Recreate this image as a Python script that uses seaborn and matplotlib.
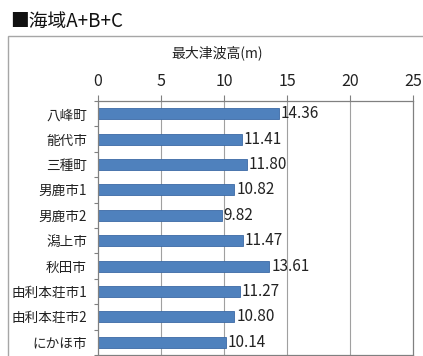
import matplotlib
matplotlib.use("Agg")
import matplotlib.pyplot as plt
from matplotlib.patches import Rectangle
from matplotlib.ticker import FixedLocator
import seaborn as sns
import pandas as pd

# Data: maximum tsunami height (m) per municipality, sea areas A+B+C
municipalities = ["八峰町", "能代市", "三種町", "男鹿市1", "男鹿市2",
                  "潟上市", "秋田市", "由利本荘市1", "由利本荘市2", "にかほ市"]
max_heights = [14.36, 11.41, 11.80, 10.82, 9.82,
               11.47, 13.61, 11.27, 10.80, 10.14]
x_ticks = [0, 5, 10, 15, 20, 25]

title_text = "■海域A+B+C"
axis_title = "最大津波高(m)"

df = pd.DataFrame({"municipality": municipalities, "height": max_heights})

sns.set_theme(style="white")
cjk = ["Noto Sans CJK JP", "DejaVu Sans"]
plt.rcParams["font.family"] = cjk

W, H = 423, 356
fig = plt.figure(figsize=(W / 100, H / 100), dpi=100)
fig.patch.set_facecolor("white")

# outer frame around the chart area
fig.add_artist(Rectangle((8 / W, -0.2), 1.2, 1 - 36 / H + 0.2,
                         transform=fig.transFigure, fill=False,
                         edgecolor="#a6a6a6", linewidth=1.0))

ax = fig.add_axes([98 / W, 1 / H, (413 - 98) / W, (355 - 101) / H])

sns.barplot(data=df, x="height", y="municipality", orient="h",
            color="#4f81bd", saturation=1, width=0.43,
            edgecolor="#3c6aa6", linewidth=0.6, ax=ax)

ax.set_xlim(0, 25)
ax.set_ylim(len(municipalities) - 0.5, -0.5)
ax.xaxis.set_ticks_position("top")
ax.xaxis.set_label_position("top")
ax.set_xticks(x_ticks)
ax.set_xticklabels([str(t) for t in x_ticks], fontsize=11.5, color="#222222")
ax.tick_params(axis="x", which="major", direction="out", length=4,
               width=0.8, color="#808080", pad=4)

ax.set_yticks(range(len(municipalities)))
ax.set_yticklabels(municipalities, fontsize=9.8, color="#222222")
ax.tick_params(axis="y", which="major", length=0, pad=8)
ax.yaxis.set_minor_locator(FixedLocator([i - 0.5 for i in range(len(municipalities) + 1)]))
ax.tick_params(axis="y", which="minor", direction="out", length=3,
               width=0.8, color="#808080", left=True)

ax.set_xlabel("")
ax.set_ylabel("")

for xv in x_ticks[1:-1]:
    ax.axvline(xv, color="#a0a0a0", linewidth=0.8, zorder=0)

for side in ["left", "right", "top", "bottom"]:
    ax.spines[side].set_visible(True)
    ax.spines[side].set_color("#808080")
    ax.spines[side].set_linewidth(0.9)

ax.bar_label(ax.containers[0], labels=[f"{v:.2f}" for v in max_heights],
             padding=1.5, fontsize=11, color="#222222")

fig.text(10 / W, 1 - 21 / H, title_text, fontsize=13.5, va="center",
         ha="left", color="#111111")
fig.text(217 / W, 1 - 53 / H, axis_title, fontsize=10, va="center",
         ha="center", color="#222222")

fig.savefig("out.png", dpi=100, facecolor="white")
